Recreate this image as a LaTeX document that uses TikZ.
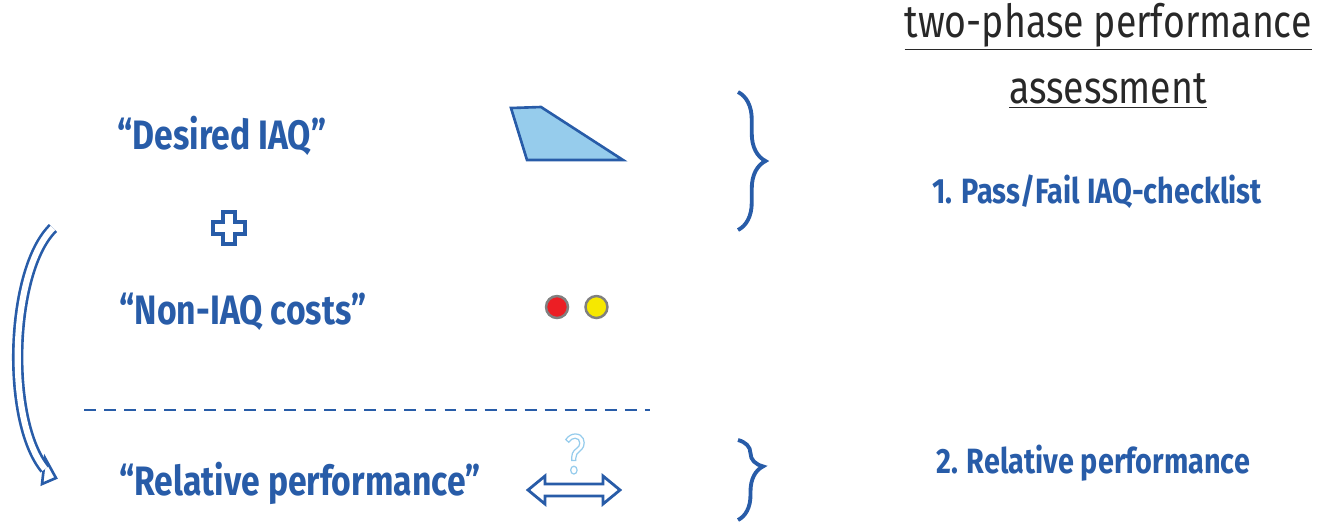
\documentclass[tikz,border=0pt]{standalone}
\usepackage{fontspec}
\setmainfont{Fira Sans}[FakeStretch=0.82]
\usepackage{tikz}
\usetikzlibrary{arrows.meta, positioning, shapes.geometric, calc, decorations.pathreplacing}
\definecolor{iaqblue}{RGB}{40,92,168}
\definecolor{lightblue}{RGB}{150,204,236}
\definecolor{titlegray}{RGB}{40,40,40}
\definecolor{stopred}{RGB}{236,30,36}
\definecolor{waityellow}{RGB}{246,232,0}

\begin{document}
\begin{tikzpicture}[
  x=0.02cm, y=-0.02cm,
  lhs/.style={text=iaqblue, font=\fontsize{23.4}{28}\selectfont\bfseries, inner sep=0pt},
  rhs/.style={text=iaqblue, font=\fontsize{20}{24}\selectfont\bfseries, inner sep=0pt},
  title/.style={text=titlegray, font=\fontsize{26}{30}\selectfont, inner sep=0pt},
  bracket/.style={draw=iaqblue, line width=2.2pt, decorate,
                  decoration={brace, amplitude=0.55cm}},
  hollow/.style={draw=iaqblue, line width=1.5pt, double=white, double distance=3.5pt}
]
\useasboundingbox (0,0) rectangle (1322,529);

% left column
\node[lhs] (desired) at (222,136) {“Desired IAQ”};
\node[lhs] (noniaq) at (243,312) {“Non-IAQ costs”};
\node[lhs] (relative) at (300,483) {“Relative performance”};

% plus sign
\draw[iaqblue, line width=1.8pt, fill=white]
  (223,212) -- (235,212) -- (235,222) -- (245,222) -- (245,234) -- (235,234)
  -- (235,244) -- (223,244) -- (223,234) -- (213,234) -- (213,222) -- (223,222) -- cycle;

% symbols
\draw[iaqblue, line width=1.5pt, fill=lightblue]
  (511,108) -- (541,107) -- (623,160) -- (527,160) -- cycle;
\node[circle, draw=gray, line width=1.4pt, fill=stopred, minimum size=0.44cm, inner sep=0pt] (red) at (557,307) {};
\node[circle, draw=gray, line width=1.4pt, fill=waityellow, minimum size=0.44cm, inner sep=0pt, right=0.3cm of red] (yellow) {};

\node[text=lightblue, font=\fontsize{32}{32}\selectfont, inner sep=0pt] (query) at (575,454)
  {\special{pdf:literal direct 1 Tr 0.7 w}?\special{pdf:literal direct 0 Tr}};

\draw[iaqblue, line width=1.6pt, fill=white]
  (528,490) -- (545,476) -- (545,484) -- (603,484) -- (603,476) -- (620,490)
  -- (603,504) -- (603,496) -- (545,496) -- (545,504) -- cycle;

% separator
\coordinate (sepl) at (84,410);
\coordinate (sepr) at (650,410);
\draw[iaqblue, line width=1.4pt, dash pattern=on 6.8pt off 4.6pt] (sepl) -- (sepr);

% curved feedback arrow
\coordinate (cstart) at (53,228);
\coordinate (cend) at (45,469);
\draw[iaqblue, line width=1.5pt, fill=white, line join=miter]
  (45,458) -- (56,478) -- (42,484) -- cycle;
\draw[hollow] (cstart) .. controls (10,270) and (5,420) .. (cend);

% right column
\node[title] (head1) at (1108,27) {\underline{two-phase performance}};
\node[title, below=0.45cm of head1] (head2) {\underline{assessment}};
\node[rhs] (phase1) at (1097,192) {1. Pass/Fail IAQ-checklist};
\node[rhs] (phase2) at (1093,463) {2. Relative performance};

\coordinate (b1top) at (738,92);
\coordinate (b1bot) at (738,230);
\coordinate (b2top) at (738,440);
\coordinate (b2bot) at (738,520);
\draw[bracket] (b1top) -- (b1bot);
\draw[bracket, decoration={brace, amplitude=0.5cm, aspect=0.33}] (b2top) -- (b2bot);

\end{tikzpicture}
\end{document}
